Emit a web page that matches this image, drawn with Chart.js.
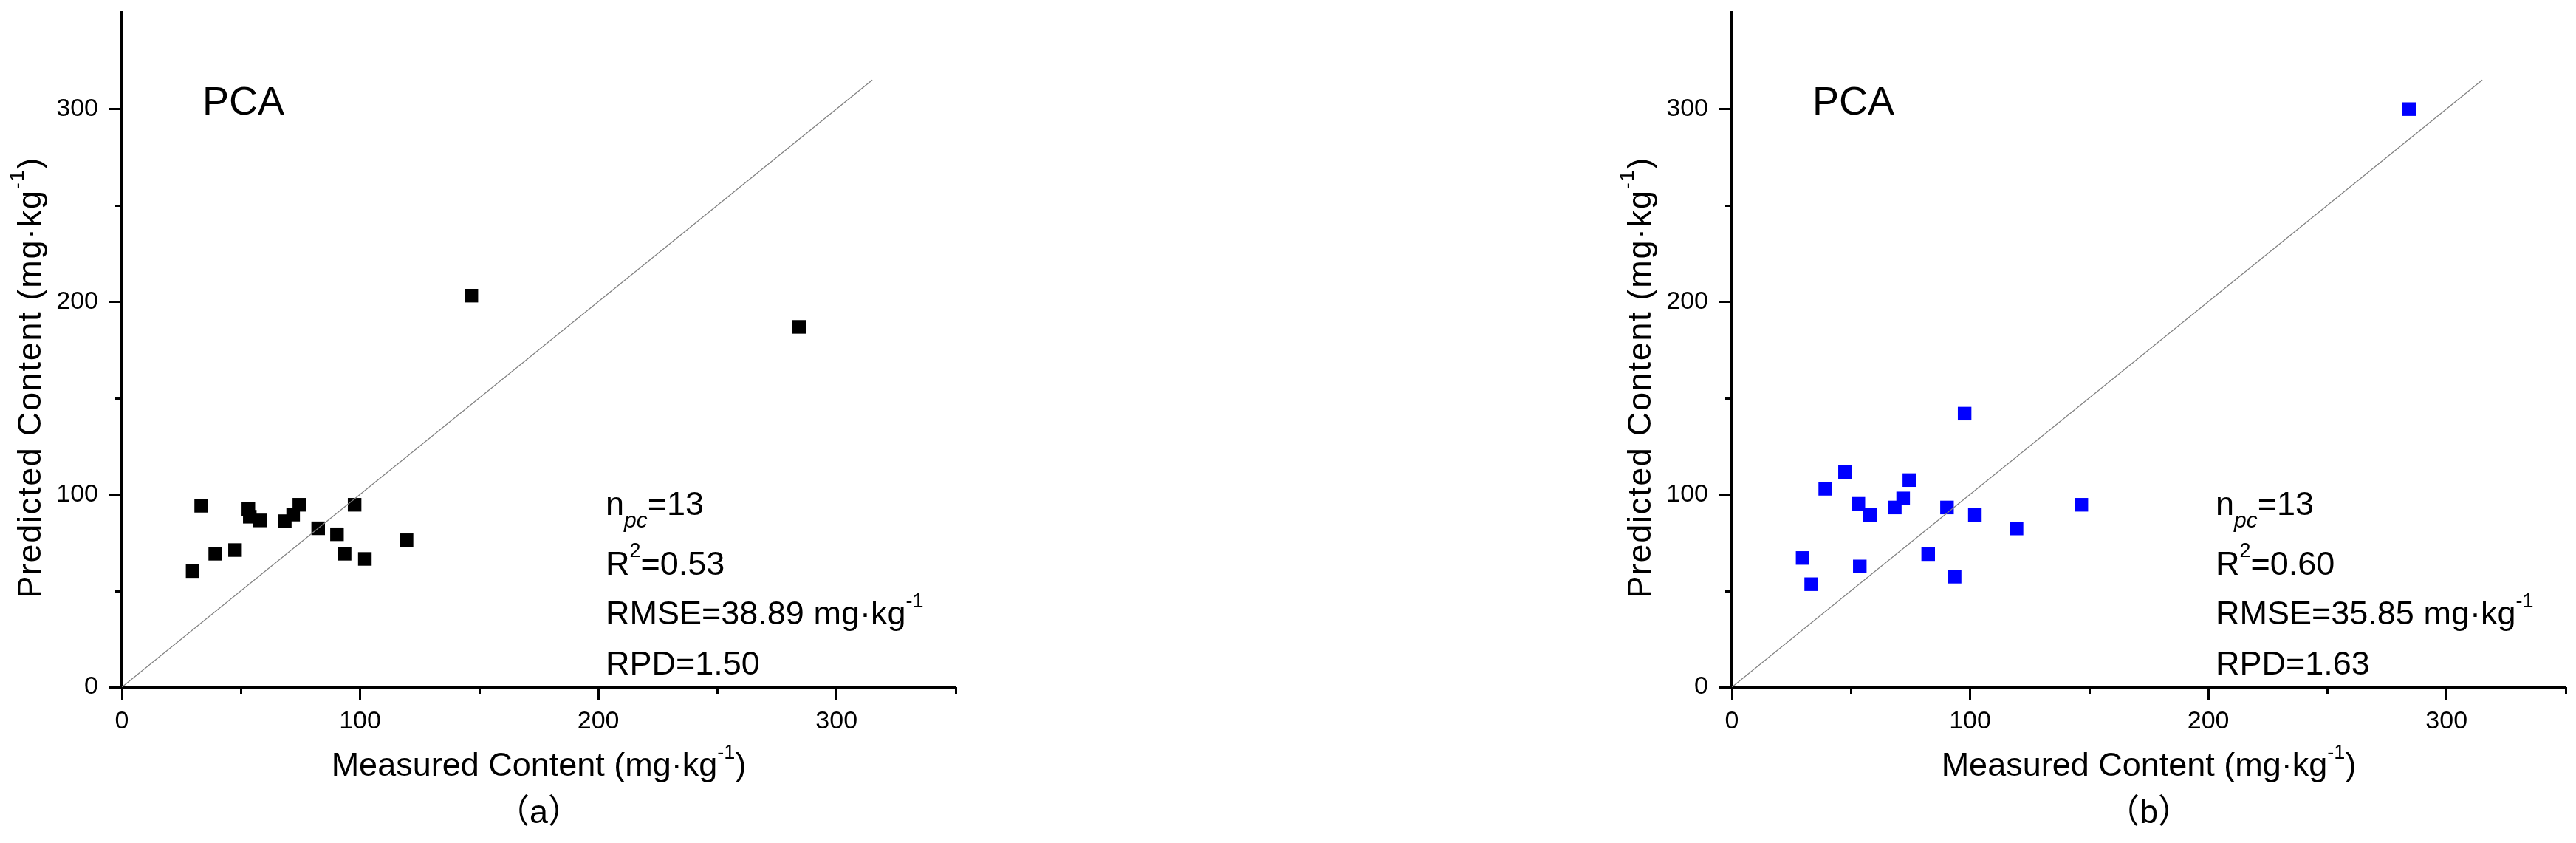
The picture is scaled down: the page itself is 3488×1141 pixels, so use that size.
<!DOCTYPE html>
<html>
<head>
<meta charset="utf-8">
<script src="https://cdn.jsdelivr.net/npm/chart.js@4.4.0/dist/chart.umd.min.js"></script>
<style>
  html, body { margin: 0; padding: 0; background: #fff; }
  body { width: 3488px; height: 1141px; position: relative; overflow: hidden; }
  canvas { position: absolute; top: 0; }
  #chartA { left: 0; }
  #chartB { left: 2180px; }
</style>
</head>
<body>
<canvas id="chartA" width="1308" height="1141"></canvas>
<canvas id="chartB" width="1308" height="1141"></canvas>
<script>
// measured vs predicted content (mg/kg)
const measured   = [29.7, 33.3, 39.2, 47.5, 53.1, 53.7, 58.0, 68.4, 71.9, 74.5, 82.4, 90.3, 93.5, 97.7, 102.0, 119.5, 146.7, 284.3];
const predictedA = [60.2, 94.1, 69.2, 71.1, 92.4, 88.4, 86.5, 86.1, 89.5, 94.6, 82.4, 79.3, 69.2, 94.6, 66.5, 76.2, 203.1, 186.9];
const predictedB = [67.0, 53.4, 102.9, 111.5, 95.1, 62.6, 89.3, 93.2, 97.9, 107.4, 69.0, 93.2, 57.3, 141.9, 89.3, 82.3, 94.6, 299.9];
const oneToOne   = [0, 315];
const majorTicks = [0, 100, 200, 300];
const minorTicks = [50, 150, 250, 350];
const statsA = ["13", "0.53", "38.89", "1.50"];
const statsB = ["13", "0.60", "35.85", "1.63"];

const FONT = "'Liberation Sans', Arial, 'Noto Sans CJK SC', sans-serif";

// ------------------------------------------------------------
// Text helpers (super/subscripts)
// ------------------------------------------------------------
function fontOf(p) {
  return (p.i ? "italic " : "") + (p.s || 45) + "px " + FONT;
}

function drawRich(ctx, x, y, parts, align) {
  let total = 0;
  parts.forEach(p => {
    ctx.font = fontOf(p);
    p.w = ctx.measureText(p.t).width;
    total += p.w;
  });
  let cx = align === "center" ? x - total / 2 : x;
  parts.forEach(p => {
    ctx.font = fontOf(p);
    ctx.fillText(p.t, cx, y + (p.dy || 0));
    cx += p.w;
  });
}

function labelPlugin(stats, tag) {
  return {
    id: "labels",
    afterDraw(chart) {
      const { ctx, chartArea: a, scales: { x, y } } = chart;
      ctx.save();
      ctx.fillStyle = "#000";
      ctx.strokeStyle = "#000";
      ctx.textAlign = "left";
      ctx.textBaseline = "alphabetic";

      // minor tick marks
      ctx.lineWidth = 3;
      ctx.beginPath();
      minorTicks.forEach(v => {
        const px = Math.round(x.getPixelForValue(v)) + 0.5;
        ctx.moveTo(px, a.bottom);
        ctx.lineTo(px, a.bottom + 9);
        if (v < 350) {
          const py = Math.round(y.getPixelForValue(v)) + 0.5;
          ctx.moveTo(a.left, py);
          ctx.lineTo(a.left - 9, py);
        }
      });
      ctx.stroke();

      drawRich(ctx, x.getPixelForValue(33.8), y.getPixelForValue(297), [{ t: "PCA", s: 54 }]);

      const sx = a.left + 655;
      drawRich(ctx, sx, a.bottom - 233, [{ t: "n" }, { t: "pc", s: 30, i: true, dy: 17 }, { t: "=" + stats[0] }]);
      drawRich(ctx, sx, a.bottom - 152, [{ t: "R" }, { t: "2", s: 27, dy: -24 }, { t: "=" + stats[1] }]);
      drawRich(ctx, sx, a.bottom - 85, [{ t: "RMSE=" + stats[2] + " mg·kg" }, { t: "-1", s: 27, dy: -23 }]);
      drawRich(ctx, sx, a.bottom - 17, [{ t: "RPD=" + stats[3] }]);

      const cx = (a.left + a.right) / 2;
      drawRich(ctx, cx, a.bottom + 120, [{ t: "Measured Content (mg·kg" }, { t: "-1", s: 27, dy: -23 }, { t: ")" }], "center");
      drawRich(ctx, cx, a.bottom + 184, [{ t: "（" + tag + "）" }], "center");

      ctx.translate(55, a.top + 494);
      ctx.rotate(-Math.PI / 2);
      ctx.letterSpacing = "1.7px";
      drawRich(ctx, 0, 0, [{ t: "Predicted Content (mg·kg" }, { t: "-1", s: 27, dy: -23 }, { t: ")" }], "center");
      ctx.restore();
    }
  };
}

// ------------------------------------------------------------
// Chart
// ------------------------------------------------------------
function axis(size, fit) {
  return {
    type: "linear",
    min: 0,
    max: 350,
    ticks: {
      stepSize: 50,
      autoSkip: false,
      maxRotation: 0,
      color: "#000",
      font: { family: FONT, size: 34 },
      padding: fit === "x" ? 8 : 14,
      callback: v => majorTicks.includes(v) ? String(v) : ""
    },
    grid: {
      drawOnChartArea: false,
      drawTicks: true,
      tickLength: 18,
      tickWidth: 3,
      tickColor: c => c.tick && majorTicks.includes(c.tick.value) ? "#000" : "rgba(0,0,0,0)"
    },
    border: { display: true, color: "#000", width: 4 },
    afterFit: s => {
      if (fit === "x") s.height = size; else s.width = size;
      s.paddingTop = 0;
      s.paddingBottom = 0;
      s.paddingLeft = 0;
      s.paddingRight = 0;
    }
  };
}

function renderPlot(id, predicted, color, stats, tag) {
  const points = measured.map((m, i) => ({ x: m, y: predicted[i] }));
  return new Chart(document.getElementById(id), {
    type: "scatter",
    data: {
      datasets: [
        {
          data: oneToOne.map(v => ({ x: v, y: v })),
          showLine: true,
          borderColor: "#808080",
          borderWidth: 1.3,
          pointRadius: 0,
          fill: false,
          order: 0
        },
        {
          data: points,
          pointStyle: "rect",
          pointRadius: 13,
          backgroundColor: color,
          borderColor: color,
          borderWidth: 0,
          order: 1
        }
      ]
    },
    options: {
      responsive: false,
      animation: false,
      devicePixelRatio: 1,
      layout: { autoPadding: false, padding: { top: 17, right: 14, left: 0, bottom: 0 } },
      plugins: { legend: { display: false }, tooltip: { enabled: false } },
      scales: {
        x: axis(211, "x"),
        y: axis(165, "y")
      }
    },
    plugins: [labelPlugin(stats, tag)]
  });
}

renderPlot("chartA", predictedA, "#000000", statsA, "a");
renderPlot("chartB", predictedB, "#0000ff", statsB, "b");
</script>
</body>
</html>
